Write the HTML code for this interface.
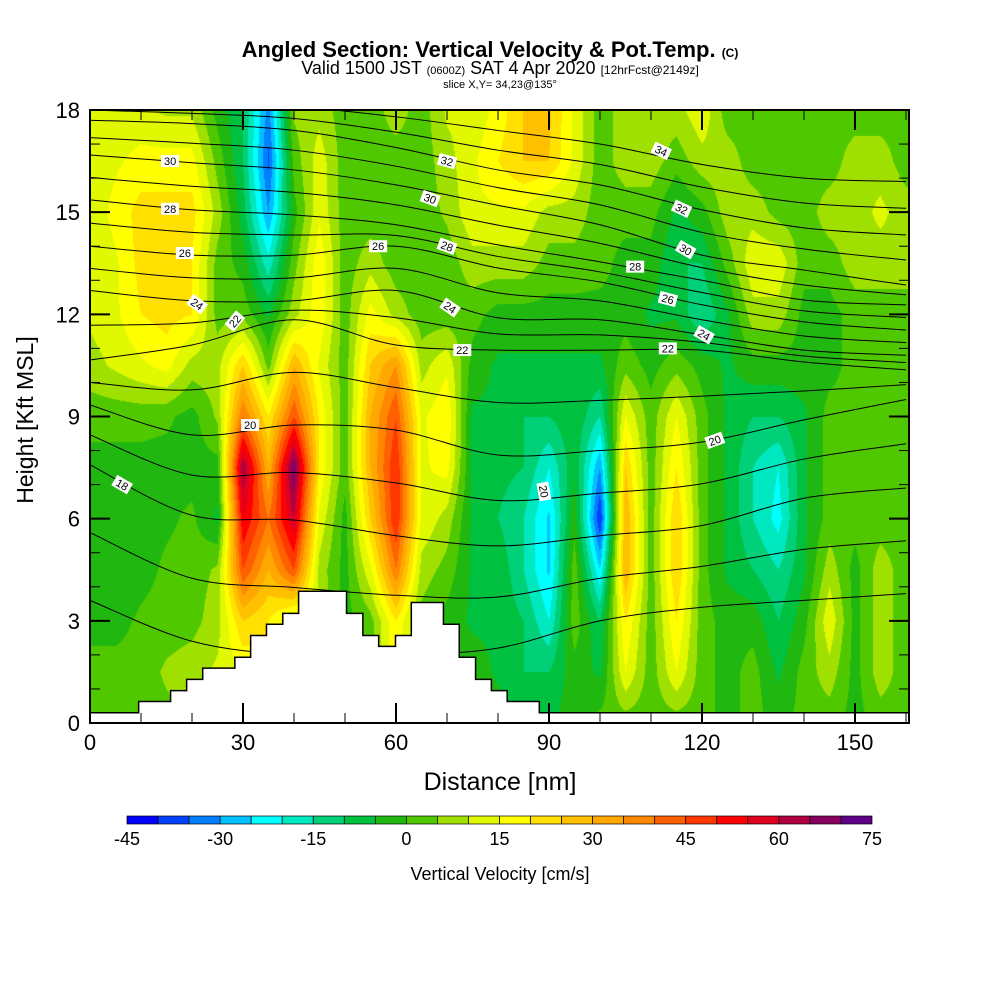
<!DOCTYPE html>
<html><head><meta charset="utf-8"><style>
body{margin:0;background:#fff;width:1000px;height:1000px;overflow:hidden;font-family:"Liberation Sans",sans-serif}
#wrap{position:relative;width:1000px;height:1000px}
canvas,svg{position:absolute;left:0;top:0}
</style></head><body>
<div id="wrap">
<canvas id="cv" width="1000" height="1000"></canvas>
<svg id="sv" width="1000" height="1000"></svg>
</div>
<script>
// ---- data ----
const heightsKft = [0,1.5,3,4.5,6,7.5,9,10.5,12,13.5,15,16.5,18];
const distNm = [0,5,10,15,20,25,30,35,40,45,50,55,60,65,70,75,80,85,90,95,100,105,110,115,120,125,130,135,140,145,150,155,160];
const wCols = [
[2,2,-2,-5,-5,-2,2,8,11,10,11,10,10],
[2,2,-2,-5,-3,-2,2,11,14,14,17,14,11],
[2,2,1,-2,-2,-2,2,14,20,22,22,17,11],
[3,6,2,1,-1,-2,1,17,22,22,22,17,9],
[6,8,3,2,1,-2,-2,8,20,20,22,17,9],
[8,11,8,6,-6,-2,6,8,3,3,8,3,-2],
[15,15,25,45,55,65,40,25,3,-2,-8,-10,-10],
[20,20,20,30,40,30,20,3,-6,-18,-30,-36,-32],
[10,10,10,45,60,70,45,30,8,3,-2,2,6],
[10,10,10,8,14,19,19,14,19,19,14,13,8],
[-2,-2,-2,-2,-2,2,2,2,2,2,2,2,2],
[2,2,3,14,25,30,30,25,17,8,2,2,2],
[20,20,20,40,50,50,45,35,8,2,2,2,8],
[2,2,3,8,14,14,14,8,2,2,2,2,2],
[-2,-2,-2,3,8,17,19,14,2,2,6,8,11],
[-2,-2,-6,-6,-6,-6,-6,-2,2,8,14,14,11],
[-2,-6,-6,-6,-10,-8,-6,-6,-2,8,14,20,17],
[-6,-10,-10,-15,-15,-10,-10,-6,-2,8,14,25,25],
[-6,-10,-20,-26,-26,-20,-10,-6,-2,3,8,25,26],
[-2,-2,3,3,-2,-6,-6,-6,-2,3,8,14,14],
[2,-6,-10,-25,-40,-30,-15,-6,-2,2,2,2,2],
[2,15,20,30,30,25,15,3,-2,-2,2,8,8],
[2,2,2,2,2,2,2,-2,-6,-2,2,8,8],
[2,15,20,25,25,20,15,3,-6,-10,-6,2,8],
[2,2,2,2,2,2,2,-2,-15,-10,-2,8,14],
[-2,-2,-2,-6,-6,-6,-6,-6,-6,2,8,8,2],
[2,2,-2,-10,-15,-15,-10,-2,8,14,8,2,2],
[-2,-6,-10,-15,-22,-20,-10,-2,8,14,3,2,2],
[2,2,-2,-6,-6,-6,-6,-2,-2,2,2,2,2],
[2,8,14,8,2,2,2,-2,-2,2,8,2,2],
[-2,-2,-2,-2,2,2,2,2,2,8,8,8,2],
[2,8,8,8,2,2,2,2,2,8,11,8,2],
[2,2,2,2,2,2,2,2,2,8,8,2,2]
];
const colorBins = ["#0000ff","#0040ff","#0080ff","#00c0ff","#00ffff","#00e8c0","#00d078","#00c040","#20b810","#50c800","#a0e000","#e0f800","#ffff00","#ffe000","#ffc000","#ffa800","#ff8800","#ff6000","#ff3800","#ff0000","#e00020","#b00040","#880060","#600088"];
const cbTicks = [-45,-30,-15,0,15,30,45,60,75];
const xTicks = [0,30,60,90,120,150];
const yTicks = [0,3,6,9,12,15,18];
const terrX = [0,9.54,15.8,18.95,22.1,28.4,31.5,34.6,37.8,40.9,50.3,53.5,56.6,59.9,63.0,69.3,72.4,75.6,78.7,81.8,88.1];
const terrH = [0.3,0.63,0.95,1.28,1.61,1.93,2.57,2.90,3.22,3.87,3.22,2.57,2.25,2.57,3.54,2.90,1.93,1.28,0.95,0.63,0.30];
const thetaNodes = [0,20,40,60,80,100,120,140,160];
const thetaLevels = [16,18,20,22,24,26,28,30,32,34];
const thetaHeights = [
[3.6,2.4,2.0,2.0,2.2,3.0,3.4,3.6,3.8],
[7.58,6.1,5.96,5.5,5.2,5.5,5.8,6.6,6.9],
[9.34,8.46,8.75,8.6,7.87,8.0,8.25,8.9,9.5],
[10.66,11.1,11.84,11.1,10.95,10.95,10.95,10.6,10.37],
[12.7,12.4,12.4,12.7,11.9,11.84,11.4,10.95,10.8],
[14.0,13.74,13.74,14.0,13.36,12.95,12.28,11.78,11.54],
[15.36,15.07,14.92,14.63,14.04,13.54,13.0,12.42,12.28],
[16.68,16.45,16.24,15.8,15.2,14.63,13.74,13.3,12.86],
[17.7,17.6,17.4,16.9,16.24,15.8,15.07,14.54,14.33],
[18.3,18.2,18.1,17.8,17.4,17.0,16.4,16.0,15.9]
];
const labelText = ["30","28","26","24","22","20","18","32","30","28","26","24","22","20","34","32","30","28","26","24","22","20"];
const labelX = [15.7,15.7,18.6,21,28.4,31.4,6.3,70,66.7,70,56.5,70.6,73,89,112,116,116.8,106.9,113.3,120.4,113.3,122.5];
const labelY = [16.5,15.1,13.8,12.3,11.8,8.75,7.0,16.5,15.4,14.0,14.0,12.2,10.95,6.8,16.8,15.1,13.9,13.4,12.45,11.4,11.0,8.3];
const labelRot = [0,0,0,35,-50,0,30,15,20,20,0,35,0,80,25,25,30,0,15,30,0,-20];

// ---- axes ----
const X0=90,X1=909,Y0=723,Y1=110;
const xs = d => X0 + d*5.1;
const ys = h => Y0 - h*(Y0-Y1)/18;
const nmOf = px => (px-X0)/5.1;
const hOf = py => (Y0-py)*18/(Y0-Y1);

function sample(nm,h){
  let fi = Math.max(0,Math.min(distNm.length-1.0001, nm/5));
  let fj = Math.max(0,Math.min(heightsKft.length-1.0001, h/1.5));
  let i=Math.floor(fi), j=Math.floor(fj), a=fi-i, b=fj-j;
  let i2=Math.min(i+1,distNm.length-1), j2=Math.min(j+1,heightsKft.length-1);
  return (1-a)*(1-b)*wCols[i][j]+a*(1-b)*wCols[i2][j]+(1-a)*b*wCols[i][j2]+a*b*wCols[i2][j2];
}
function hexRGB(h){return [parseInt(h.substr(1,2),16),parseInt(h.substr(3,2),16),parseInt(h.substr(5,2),16)];}
const rgbBins = colorBins.map(hexRGB);
const cv=document.getElementById('cv'),ctx=cv.getContext('2d');
const W=X1-X0,H=Y0-Y1;
const img=ctx.createImageData(W,H);
for(let py=0;py<H;py++){for(let px=0;px<W;px++){
  const v=sample(nmOf(X0+px+0.5),hOf(Y1+py+0.5));
  let k=Math.floor((v+45)/5); k=Math.max(0,Math.min(23,k));
  const c=rgbBins[k], o=(py*W+px)*4;
  img.data[o]=c[0];img.data[o+1]=c[1];img.data[o+2]=c[2];img.data[o+3]=255;
}}
ctx.putImageData(img,X0,Y1);

// ---- svg overlay ----
const NS="http://www.w3.org/2000/svg", sv=document.getElementById('sv');
function el(tag,attrs,parent){const e=document.createElementNS(NS,tag);for(const k in attrs)e.setAttribute(k,attrs[k]);(parent||sv).appendChild(e);return e;}
function txt(str,attrs,name){const t=el('text',attrs);t.textContent=str;


return t;}

const gC=el('g',{});


function crPath(pts){let d=`M${pts[0][0]},${pts[0][1]}`;for(let i=0;i<pts.length-1;i++){const p0=pts[Math.max(0,i-1)],p1=pts[i],p2=pts[i+1],p3=pts[Math.min(pts.length-1,i+2)];
d+=` C${p1[0]+(p2[0]-p0[0])/6},${p1[1]+(p2[1]-p0[1])/6} ${p2[0]-(p3[0]-p1[0])/6},${p2[1]-(p3[1]-p1[1])/6} ${p2[0]},${p2[1]}`;}return d;}
const allLevels=[];
for(let i=0;i<thetaLevels.length;i++){allLevels.push({lv:thetaLevels[i],hs:thetaHeights[i]});
 if(i<thetaLevels.length-1)allLevels.push({lv:thetaLevels[i]+1,hs:thetaHeights[i].map((h,k)=>(h+thetaHeights[i+1][k])/2)});}
allLevels.forEach(L=>{const pts=thetaNodes.map((n,k)=>[xs(n),ys(L.hs[k])]);
 const p=el('path',{d:crPath(pts),fill:'none',stroke:'#000','stroke-width':1},gC);
 
 });
const cp=el('clipPath',{id:'pc'});el('rect',{x:X0,y:Y1,width:W,height:H},cp);
gC.setAttribute('clip-path','url(#pc)');

let td=`M${xs(terrX[0])},${Y0}`;
for(let i=0;i<terrX.length;i++){const xa=xs(terrX[i]),xb=i<terrX.length-1?xs(terrX[i+1]):X1;td+=` L${xa},${ys(terrH[i])} L${xb},${ys(terrH[i])}`;}
td+=` L${X1},${Y0} Z`;
const terr=el('path',{d:td,fill:'#fff',stroke:'#000','stroke-width':1.5});



for(let i=0;i<labelText.length;i++){const g=el('g',{transform:`translate(${xs(labelX[i])},${ys(labelY[i])}) rotate(${labelRot[i]})`});
 
 
 el('rect',{x:-9,y:-6,width:18,height:12,fill:'#fff'},g);
 const t=el('text',{x:0,y:4,'font-size':11,'text-anchor':'middle',fill:'#000'},g);t.textContent=labelText[i];}

const fr=el('rect',{x:X0,y:Y1,width:W,height:H,fill:'none',stroke:'#000','stroke-width':2});


for(let d=0;d<=160;d+=10){const maj=d%30===0;el('line',{x1:xs(d),x2:xs(d),y1:Y0,y2:Y0-(maj?20:10),stroke:'#000','stroke-width':maj?2:1});el('line',{x1:xs(d),x2:xs(d),y1:Y1,y2:Y1+(maj?20:10),stroke:'#000','stroke-width':maj?2:1});}
for(let h=0;h<=18;h+=1){const maj=h%3===0;el('line',{x1:X0,x2:X0+(maj?20:10),y1:ys(h),y2:ys(h),stroke:'#000','stroke-width':maj?2:1});el('line',{x1:X1,x2:X1-(maj?20:10),y1:ys(h),y2:ys(h),stroke:'#000','stroke-width':maj?2:1});}
xTicks.forEach(d=>txt(String(d),{x:xs(d),y:Y0+27,'font-size':22,'text-anchor':'middle'},'x-tick-label'));
yTicks.forEach(h=>txt(String(h),{x:X0-10,y:ys(h)+8,'font-size':22,'text-anchor':'end'},'y-tick-label'));
txt('Distance [nm]',{x:500,y:790,'font-size':25,'text-anchor':'middle'},'x-axis-title');
txt('Height [Kft MSL]',{x:33,y:420,'font-size':23,'text-anchor':'middle',transform:'rotate(-90 33 420)'},'y-axis-title');

const t1=txt('Angled Section: Vertical Velocity & Pot.Temp. ',{x:490,y:57,'font-size':22,'font-weight':'bold','text-anchor':'middle'},'chart-title');
const ts=el('tspan',{'font-size':12},t1);ts.textContent='(C)';
const t2=txt('Valid 1500 JST ',{x:500,y:74,'font-size':18,'text-anchor':'middle'},'chart-subtitle');
[['(0600Z)',11],[' SAT 4 Apr 2020 ',18],['[12hrFcst@2149z]',12]].forEach(s=>{const e=el('tspan',{'font-size':s[1]},t2);e.textContent=s[0];});
txt('slice X,Y= 34,23@135°',{x:500,y:88,'font-size':11,'text-anchor':'middle'},'slice-info');

const cbX0=127,cbX1=872,cbW=(cbX1-cbX0)/colorBins.length;
const cbG=el('g',{});


colorBins.forEach((c,i)=>{const r=el('rect',{x:cbX0+i*cbW,y:816,width:cbW,height:8,fill:c,stroke:'#000','stroke-width':0.7},cbG);
 
 });
cbTicks.forEach(v=>txt(String(v),{x:cbX0+(v+45)/5*cbW,y:845,'font-size':18,'text-anchor':'middle'},'colorbar-tick-label'));
txt('Vertical Velocity [cm/s]',{x:500,y:880,'font-size':18,'text-anchor':'middle'},'colorbar-title');
</script>
</body></html>
